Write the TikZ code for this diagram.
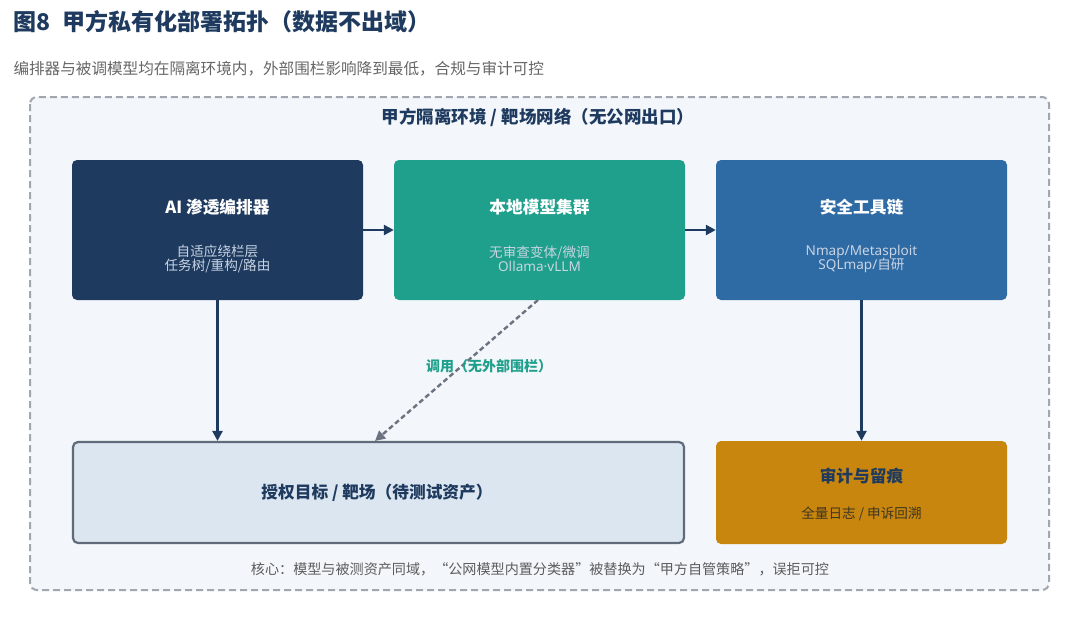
\documentclass[tikz,border=0pt]{standalone}
\usepackage{fontspec}
\setmainfont{Noto Sans CJK SC}
\newfontfamily\latinf{Noto Sans}
\usetikzlibrary{arrows.meta}
\definecolor{navy}{HTML}{1E3A5F}
\definecolor{teal}{HTML}{1FA08C}
\definecolor{steel}{HTML}{2E6AA3}
\definecolor{gold}{HTML}{C8860E}
\definecolor{pale}{HTML}{DCE6F0}
\definecolor{paleborder}{HTML}{5F6B7A}
\definecolor{bgbox}{HTML}{F3F7FB}
\definecolor{dashgray}{HTML}{A0A7B0}
\definecolor{subgray}{HTML}{666666}
\definecolor{lightsub}{HTML}{C8D4E4}
\definecolor{darkgold}{HTML}{3E3520}
\definecolor{dgray}{HTML}{6B7380}
\begin{document}
\begin{tikzpicture}[x=1pt,y=-1pt,
  box/.style={draw=none,rounded corners=5pt,inner sep=0pt},
  ttl/.style={font=\bfseries\fontsize{16.7}{20}\selectfont},
  sub/.style={font=\fontsize{13.6}{16}\selectfont,align=center},
  conn/.style={draw=navy,line width=2.4pt,-{Triangle[length=10pt,width=10pt]}},
  dconn/.style={draw=dgray,line width=2.4pt,dash pattern=on 5pt off 3pt,-{Triangle[length=10pt,width=10pt]}}]
\useasboundingbox (0,0) rectangle (1080,627);
\fill[white] (0,0) rectangle (1080,627);
\node[anchor=west,text=navy,font=\bfseries\fontsize{23}{27}\selectfont] (title) at (10,22) {图8\hspace{0.5em}甲方私有化部署拓扑（数据不出域）};
\node[anchor=west,text=subgray,font=\fontsize{15.6}{18}\selectfont] (subtitle) at (10,69) {编排器与被调模型均在隔离环境内，外部围栏影响降到最低，合规与审计可控};
\draw[draw=dashgray,fill=bgbox,line width=2pt,dash pattern=on 7pt off 4pt,rounded corners=7pt] (30,97) rectangle (1049,590);
\node[text=navy,font=\bfseries\fontsize{17.5}{20}\selectfont] (envt) at (538,117) {甲方隔离环境 / 靶场网络（无公网出口）};
% boxes
\node[box,fill=navy,minimum width=291pt,minimum height=140pt] (orch) at (217.5,230) {};
\node[text=white,ttl] (orcht) at (217.5,207) {AI 渗透编排器};
\node[text=lightsub,sub] (orchs) at (217.5,259) {自适应绕栏层\\[-2pt]任务树/重构/路由};
\node[box,fill=teal,minimum width=291pt,minimum height=140pt] (model) at (539.5,230) {};
\node[text=white,ttl] (modelt) at (539.5,207) {本地模型集群};
\node[text=lightsub,sub] (models) at (539.5,259) {无审查变体/微调\\[-2pt]{\latinf Ollama·vLLM}};
\node[box,fill=steel,minimum width=291pt,minimum height=140pt] (tools) at (861.5,230) {};
\node[text=white,ttl] (toolst) at (861.5,207) {安全工具链};
\node[text=lightsub,sub] (toolss) at (861.5,259) {{\latinf Nmap/Metasploit}\\[-2pt]{\latinf SQLmap/}自研};
\node[draw=paleborder,fill=pale,line width=2.2pt,rounded corners=5pt,minimum width=611pt,minimum height=101pt] (target) at (378.5,492.5) {};
\node[text=navy,ttl] (targett) at (377,493) {授权目标 / 靶场（待测试资产）};
\node[box,fill=gold,minimum width=291pt,minimum height=103pt] (audit) at (861.5,492.5) {};
\node[text=navy,ttl] (auditt) at (861.5,476) {审计与留痕};
\node[text=darkgold,sub] (audits) at (861.5,514) {全量日志 / 申诉回溯};
% connectors
\draw[conn] (orch.east) -- (model.west);
\draw[conn] (model.east) -- (tools.west);
\draw[conn] (orch.south) -- (orch.south |- target.north);
\draw[conn] (tools.south) -- (audit.north);
\coordinate (dstart) at (538,300);
\coordinate (dend) at (375,441);
\draw[dconn] (dstart) -- (dend);
\node[text=teal,font=\bfseries\fontsize{14}{16}\selectfont] (call) at (489,366) {调用（无外部围栏）};
\node[text=subgray!90!black,font=\fontsize{14.1}{16}\selectfont] (core) at (540,569) {核心：模型与被测资产同域，“公网模型内置分类器”被替换为“甲方自管策略”，误拒可控};
\end{tikzpicture}
\end{document}
